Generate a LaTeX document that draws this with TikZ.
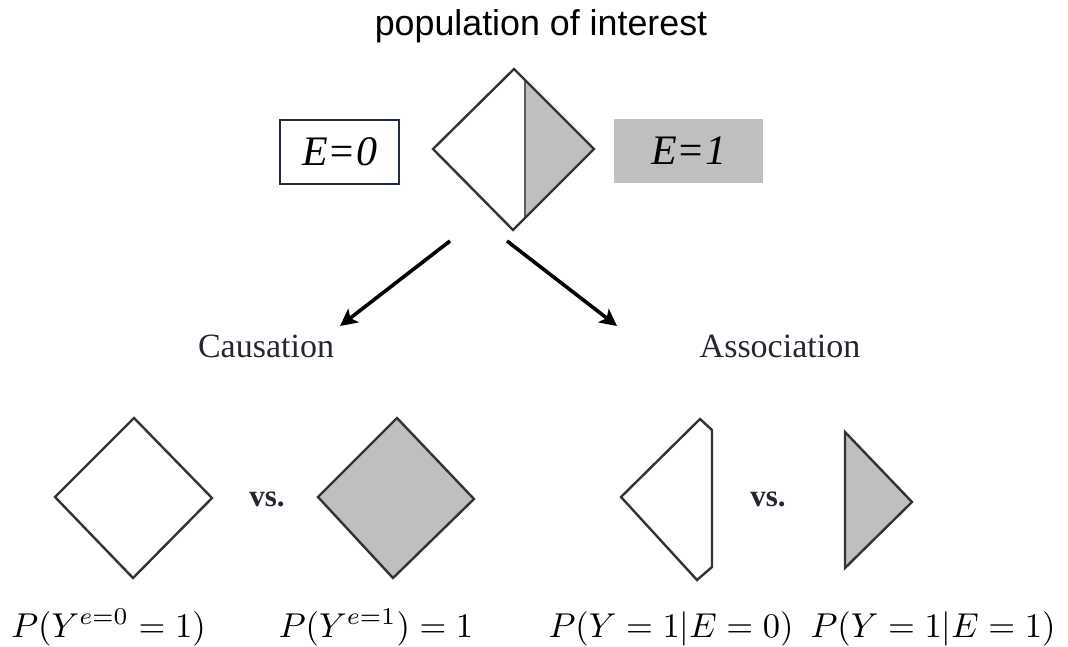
\documentclass[tikz,border=0pt]{standalone}
\usepackage{amsmath}
\usepackage{fontspec}
\setmainfont{Liberation Serif}
\setsansfont{Liberation Sans}
\usepackage{tikz}
\usetikzlibrary{arrows.meta}

\definecolor{shadegray}{HTML}{BFBFBF}
\definecolor{edgegray}{HTML}{333333}
\definecolor{boxnavy}{HTML}{1F2D3D}
\definecolor{scanink}{HTML}{262633}

\tikzset{
	dia/.style={draw=edgegray, line width=2.4pt, line join=miter},
	flow/.style={-{Stealth[length=17pt,width=17pt,inset=4pt]}, line width=3.6pt, black},
	branch/.style={font=\fontsize{34}{40}\selectfont, text=scanink, inner sep=0pt, anchor=base},
	vstext/.style={font=\bfseries\fontsize{31}{36}\selectfont, text=scanink, inner sep=0pt, anchor=base},
	expo/.style={font=\itshape\fontsize{42}{46}\selectfont, inner sep=0pt},
	prob/.style={scale=3.45, inner sep=0pt, anchor=base},
}

\begin{document}
\begin{tikzpicture}[x=1pt, y=-1pt]
		
		\useasboundingbox (0,0) rectangle (1068,646);
		
		% Title
		\node[font=\sffamily\fontsize{35.8}{40}\selectfont, anchor=base] (pop) at (541,35) {population of interest};
		
		% Population (top diamond, right part exposed)
		\begin{scope}
			\clip (514,69) -- (594,149) -- (513,230) -- (433,149) -- cycle;
			\fill[shadegray] (525,60) rectangle (600,240);
			\draw[edgegray!80, line width=1.6pt] (525,60) -- (525,240);
		\end{scope}
		\draw[dia] (514,69) -- (594,149) -- (513,230) -- (433,149) -- cycle;
		
		\node[expo, draw=boxnavy, line width=1.4pt, minimum width=119pt, minimum height=64pt] (eZero) at (339.5,152) {E=0};
		\node[expo, fill=shadegray, minimum width=149pt, minimum height=64pt] (eOne) at (688.5,151) {E=1};
		
		% Causation / Association
		\node[branch] (caus) at (266,357) {Causation};
		\node[branch] (assoc) at (780,357) {Association};
		
		\coordinate (splitL) at (450,241);
		\coordinate (splitR) at (507,241);
		\coordinate (toCaus) at (340,326);
		\coordinate (toAssoc) at (617,326);
		\draw[flow] (splitL) -- (toCaus);
		\draw[flow] (splitR) -- (toAssoc);
		
		% Causation: everybody unexposed vs. everybody exposed
		\draw[dia, fill=white] (134,418) -- (212,498) -- (133,578) -- (55,497) -- cycle;
		\node[vstext] (vsL) at (267,506) {vs.};
		\draw[dia, fill=shadegray] (397,418) -- (474,499) -- (393,578) -- (318,497) -- cycle;
		
		% Association: unexposed part vs. exposed part
		\draw[dia, fill=white] (621,497) -- (700,419) -- (712,430) -- (712,567) -- (697,580) -- cycle;
		\node[vstext] (vsR) at (768,506) {vs.};
		\draw[dia, fill=shadegray] (845,432) -- (912,502) -- (845,568) -- cycle;
		
		% Probabilities
		\node[prob] (pCauseZ) at (108.5,637) {$P(Y^{e=0} = 1)$};
		\node[prob] (pCauseO) at (376,637) {$P(Y^{e=1}) = 1$};
		\node[prob] (pAssocZ) at (671,637) {$P(Y = 1|E = 0)$};
		\node[prob] (pAssocO) at (933,637) {$P(Y = 1|E = 1)$};
		
	\end{tikzpicture}
\end{document}
